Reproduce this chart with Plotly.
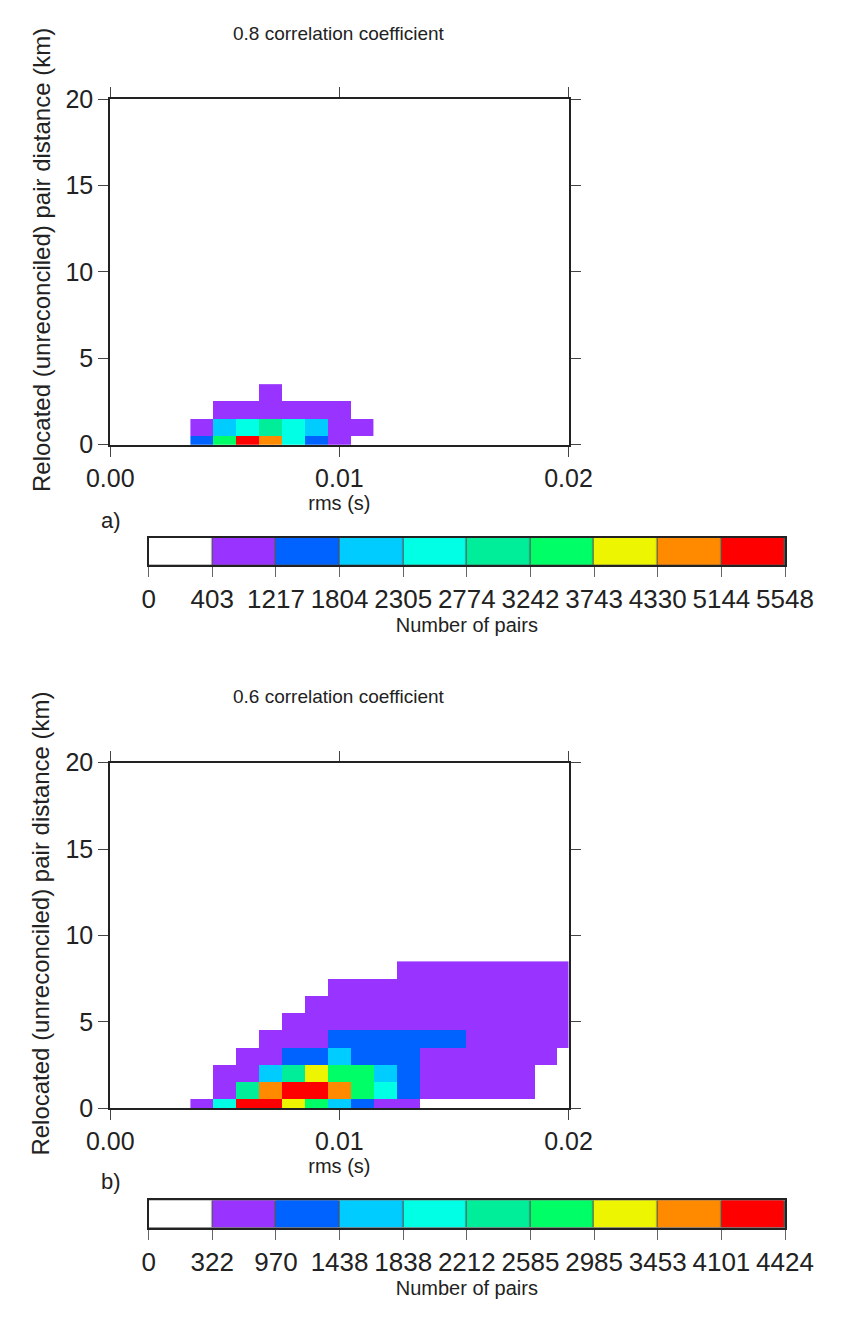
import plotly.graph_objects as go

# ---------------- data ----------------
rms_a = [0.004, 0.005, 0.006, 0.007, 0.008, 0.009, 0.010, 0.011]
dist_a = [0, 1, 2, 3]
pairs_a = [
    [1560, 3480, 5548, 4720, 2540, 1430, 760, 180],
    [690, 2060, 2610, 3010, 2480, 1930, 880, 520],
    [210, 640, 980, 1120, 870, 590, 450, 90],
    [20, 150, 330, 610, 290, 110, 30, 0],
]
levels_a = [0, 403, 1217, 1804, 2305, 2774, 3242, 3743, 4330, 5144, 5548]

rms_b = [0.004, 0.005, 0.006, 0.007, 0.008, 0.009, 0.010, 0.011, 0.012,
         0.013, 0.014, 0.015, 0.016, 0.017, 0.018, 0.019, 0.020]
dist_b = [0, 1, 2, 3, 4, 5, 6, 7, 8]
pairs_b = [
    [520, 2050, 4424, 4190, 3300, 2800, 1650, 1150, 720, 410, 250, 180, 130, 90, 60, 40, 20],
    [150, 800, 2400, 3850, 4300, 4150, 3700, 2750, 1950, 1250, 930, 780, 650, 500, 380, 280, 210],
    [60, 420, 880, 1700, 2350, 3100, 2700, 2620, 1600, 1100, 900, 800, 700, 560, 430, 300, 250],
    [0, 250, 700, 960, 1300, 1420, 1520, 1380, 1200, 1000, 930, 850, 720, 600, 480, 360, 290],
    [0, 100, 290, 520, 820, 950, 1100, 1150, 1080, 1020, 990, 975, 900, 780, 650, 520, 420],
    [0, 40, 150, 280, 480, 700, 850, 860, 830, 800, 760, 720, 680, 620, 540, 460, 400],
    [0, 10, 60, 170, 260, 420, 600, 650, 640, 620, 590, 560, 530, 490, 440, 390, 350],
    [0, 0, 20, 80, 160, 270, 400, 480, 520, 560, 540, 510, 470, 430, 400, 370, 340],
    [0, 0, 0, 20, 60, 130, 200, 260, 300, 350, 380, 400, 390, 370, 350, 340, 330],
]
levels_b = [0, 322, 970, 1438, 1838, 2212, 2585, 2985, 3453, 4101, 4424]

level_colors = ["#FFFFFF", "#9933FF", "#0062FF", "#00CCFF", "#00FFE4",
                "#00EE99", "#00FF66", "#EEF500", "#FF8A00", "#FF0000"]

x_ticks = [0.0, 0.01, 0.02]
y_ticks = [0, 5, 10, 15, 20]

FONT = "Liberation Sans, Arial, sans-serif"
TXT = "#222222"
W, H = 844, 1317


def discrete_scale(levels, colors):
    lo0, hi0 = levels[0], levels[-1]
    scale = []
    for i, c in enumerate(colors):
        a = (levels[i] - lo0) / (hi0 - lo0)
        b = (levels[i + 1] - lo0) / (hi0 - lo0)
        scale.append([a, c])
        scale.append([b, c])
    return scale


def px_x(p):
    return p / W


def px_y(p):
    return 1 - p / H


fig = go.Figure()

panels = [
    dict(x=rms_a, y=dist_a, z=pairs_a, lv=levels_a, top=87, bot=440, cb_top=535, cb_bot=563,
         title="0.8 correlation coefficient", title_y=20, tag="a)", tag_y=517),
    dict(x=rms_b, y=dist_b, z=pairs_b, lv=levels_b, top=765, bot=1118, cb_top=1212, cb_bot=1240,
         title="0.6 correlation coefficient", title_y=697, tag="b)", tag_y=1193),
]

for k, p in enumerate(panels):
    main = 2 * k + 1
    cbi = 2 * k + 2
    scale = discrete_scale(p["lv"], level_colors)
    fig.add_trace(go.Heatmap(
        x=p["x"], y=p["y"], z=p["z"], zmin=p["lv"][0], zmax=p["lv"][-1],
        colorscale=scale, showscale=False,
        xaxis="x" if main == 1 else f"x{main}", yaxis="y" if main == 1 else f"y{main}",
        hovertemplate="rms %{x}<br>dist %{y} km<br>pairs %{z}<extra></extra>",
    ))
    mids = [(p["lv"][i] + p["lv"][i + 1]) / 2 for i in range(len(level_colors))]
    idx = list(range(len(level_colors)))
    fig.add_trace(go.Heatmap(
        x=idx, y=[0], z=[mids], zmin=p["lv"][0], zmax=p["lv"][-1],
        colorscale=scale, showscale=False, xgap=1.2,
        xaxis=f"x{cbi}", yaxis=f"y{cbi}", hoverinfo="skip",
    ))

    xd = [px_x(92), px_x(581)]
    yd = [px_y(p["bot"]), px_y(p["top"])]
    ax_common = dict(showline=True, linecolor="#222", linewidth=2, mirror="ticks",
                     ticks="outside", ticklen=10, tickwidth=1, tickcolor="#444",
                     showgrid=False, zeroline=False,
                     tickfont=dict(family=FONT, size=25, color=TXT))
    xname = "xaxis" if main == 1 else f"xaxis{main}"
    yname = "yaxis" if main == 1 else f"yaxis{main}"
    fig.update_layout(**{
        xname: dict(domain=xd, range=[0, 0.02], tickvals=x_ticks, tickformat=".2f",
                    anchor="y" if main == 1 else f"y{main}",
                    title=dict(text="rms (s)", font=dict(family=FONT, size=20, color=TXT), standoff=3),
                    **ax_common),
        yname: dict(domain=yd, range=[0, 20], tickvals=y_ticks,
                    anchor="x" if main == 1 else f"x{main}",
                    **ax_common),
        f"xaxis{cbi}": dict(domain=[px_x(133), px_x(812)], range=[-0.5, len(level_colors) - 0.5],
                            anchor=f"y{cbi}",
                            tickvals=[i - 0.5 for i in range(len(level_colors) + 1)],
                            ticktext=[str(v) for v in p["lv"]],
                            ticks="outside", ticklen=10, tickwidth=1, tickcolor="#666",
                            showline=True, linecolor="#222", linewidth=2, mirror=True,
                            showgrid=False, zeroline=False,
                            tickfont=dict(family=FONT, size=26, color=TXT),
                            title=dict(text="Number of pairs", font=dict(family=FONT, size=20, color=TXT),
                                       standoff=4)),
        f"yaxis{cbi}": dict(domain=[px_y(p["cb_bot"]), px_y(p["cb_top"])], range=[-0.5, 0.5],
                            anchor=f"x{cbi}", showticklabels=False, ticks="",
                            showline=True, linecolor="#222", linewidth=2, mirror=True,
                            showgrid=False, zeroline=False),
    })
    fig.add_shape(type="rect", xref=f"x{cbi} domain", yref=f"y{cbi} domain",
                  x0=0, x1=1, y0=0, y1=1, fillcolor="#555555", line=dict(width=0), layer="below")
    fig.add_annotation(text=p["title"], x=(xd[0] + xd[1]) / 2, y=px_y(p["title_y"]),
                       xref="paper", yref="paper", showarrow=False, xanchor="center", yanchor="middle",
                       font=dict(family=FONT, size=19, color=TXT))
    fig.add_annotation(text="Relocated (unreconciled) pair distance (km)",
                       x=px_x(18), y=px_y((p["top"] + p["bot"]) / 2 - 12),
                       xref="paper", yref="paper", showarrow=False, textangle=-90,
                       xanchor="center", yanchor="middle",
                       font=dict(family=FONT, size=24, color=TXT))
    fig.add_annotation(text=p["tag"], x=px_x(80), y=px_y(p["tag_y"]),
                       xref="paper", yref="paper", showarrow=False, xanchor="left", yanchor="middle",
                       font=dict(family=FONT, size=22, color=TXT))

fig.update_layout(width=W, height=H, margin=dict(l=0, r=0, t=0, b=0),
                  paper_bgcolor="white", plot_bgcolor="white", showlegend=False,
                  font=dict(family=FONT, color=TXT))

fig.write_html("out.html")
